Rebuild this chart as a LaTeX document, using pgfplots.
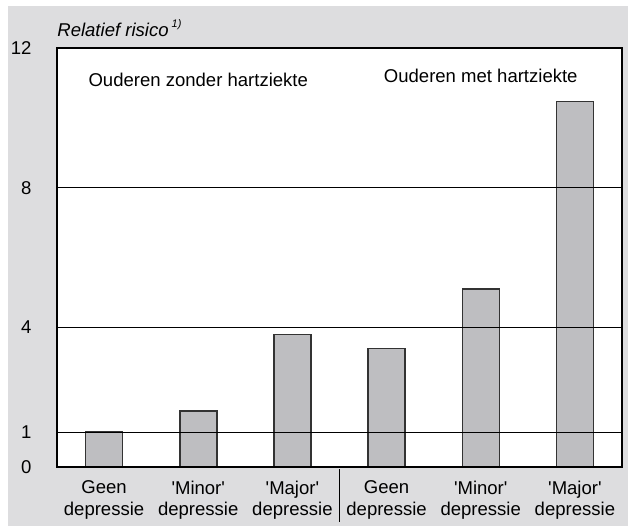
\documentclass[border=0pt]{standalone}
\usepackage{fontspec}
\setmainfont{Liberation Sans}[Ligatures=TeXOff]
\usepackage{pgfplots}
\pgfplotsset{compat=1.18}
\definecolor{bggray}{RGB}{221,221,223}
\definecolor{bargray}{RGB}{190,190,193}

\begin{document}
\fontsize{9.3}{10.5}\selectfont
\begin{tikzpicture}
\path[use as bounding box] (0,0) rectangle (314bp,263bp);
\fill[bggray] (4bp,0) rectangle (314bp,260bp);
\begin{axis}[
  at={(28.5bp,29.5bp)}, anchor=south west,
  scale only axis, width=282.5bp, height=209.5bp,
  xmin=-0.5, xmax=5.5, ymin=0, ymax=12,
  axis background/.style={fill=white},
  axis on top, clip=false,
  ybar, bar width=18.5bp, bar shift=0pt,
  xtick={0,...,5},
  xticklabels={{Geen\\depressie},{'Minor'\\depressie},{'Major'\\depressie},
               {Geen\\depressie},{'Minor'\\depressie},{'Major'\\depressie}},
  xticklabel style={align=center, anchor=north, yshift=-3.5bp,
                    font=\fontsize{9.3}{11}\selectfont},
  ytick={0,1,4,8,12},
  yticklabel style={anchor=east, xshift=-9.5bp},
  /pgf/number format/assume math mode=true,
  major tick length=0pt,
  ymajorgrids, grid style={black, line width=0.5bp},
  axis line style={black, line width=0.6bp},
]
  \addplot[fill=bargray, draw=black!80, line width=0.75bp]
    coordinates {(0,1.0) (1,1.6) (2,3.8) (3,3.4) (4,5.1) (5,10.47)};
  \node[anchor=base] at (axis cs:1,10.89) {Ouderen zonder hartziekte};
  \node[anchor=base] at (axis cs:4,11.0) {Ouderen met hartziekte};
  \node[anchor=base west, inner sep=0, font=\itshape] at ([yshift=5.65bp]rel axis cs:0,1)
    {Relatief risico\,\raisebox{0.9ex}{\fontsize{5.5}{6}\selectfont 1)}};
  \draw[black, line width=0.6bp] (axis cs:2.5,-0.06) -- (axis cs:2.5,-1.57);
\end{axis}
\end{tikzpicture}
\end{document}
